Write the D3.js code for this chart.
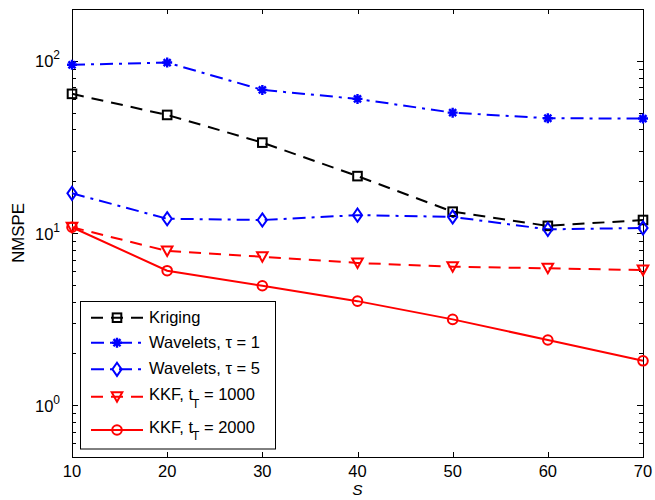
<!DOCTYPE html>
<html>
<head>
<meta charset="utf-8">
<script src="https://cdn.jsdelivr.net/npm/d3@7"></script>
<style>
  body { margin: 0; background: #fff; }
  svg { display: block; }
  text { font-family: "Liberation Sans", Arial, Helvetica, sans-serif; fill: #000; }
</style>
</head>
<body>
<svg id="chart" width="655" height="500"></svg>
<script>
// Sample counts S on the x axis
const sValues = [10, 20, 30, 40, 50, 60, 70];

// NMSPE per method
const kriging   = [64.3, 48.5, 33.5, 21.4, 13.3, 11.0, 11.9];
const wavelets1 = [94.8, 97.7, 67.8, 60.1, 50.0, 46.4, 46.2];
const wavelets5 = [17.0, 12.1, 11.9, 12.7, 12.4, 10.5, 10.7];
const kkf1000   = [10.8, 7.86, 7.28, 6.7, 6.37, 6.24, 6.09];
const kkf2000   = [10.8, 6.04, 4.94, 4.02, 3.15, 2.39, 1.81];

const xTicks = [10, 20, 30, 40, 50, 60, 70];
const yMajorTicks = [1, 10, 100];

const series = [
  { name: "Kriging",   values: kriging,   color: "#000000", dash: "12,8",      marker: "square" },
  { name: "Wavelets1", values: wavelets1, color: "#0000ff", dash: "13,6,3,6",  marker: "star" },
  { name: "Wavelets5", values: wavelets5, color: "#0000ff", dash: "13,6,3,6",  marker: "diamond" },
  { name: "KKF1000",   values: kkf1000,   color: "#ff0000", dash: "12,8",      marker: "triangle" },
  { name: "KKF2000",   values: kkf2000,   color: "#ff0000", dash: null,        marker: "circle" }
];

const svg = d3.select("#chart");
const plotL = 72, plotR = 643, plotT = 9, plotB = 457;

const x = d3.scaleLinear().domain([10, 70]).range([plotL, plotR]);
const y = d3.scaleLog().domain([0.5, 200]).range([plotB, plotT]);

// minor log ticks
const yMinor = [];
for (const base of [0.1, 1, 10, 100]) {
  for (let k = 2; k <= 9; k++) {
    const v = base * k;
    if (v >= 0.5 && v <= 200) yMinor.push(v);
  }
}

const axes = svg.append("g");

// inward ticks on all four sides
const tick = (x1, y1, x2, y2) => axes.append("line")
  .attr("x1", x1).attr("y1", y1).attr("x2", x2).attr("y2", y2)
  .attr("stroke", "#000").attr("stroke-width", 1);

xTicks.forEach(t => {
  const px = Math.round(x(t)) + 0.5;
  tick(px, plotB, px, plotB - 5);
  tick(px, plotT, px, plotT + 5);
});
yMajorTicks.forEach(t => {
  const py = Math.round(y(t)) + 0.5;
  tick(plotL, py, plotL + 6, py);
  tick(plotR, py, plotR - 6, py);
});
yMinor.forEach(t => {
  const py = Math.round(y(t)) + 0.5;
  tick(plotL, py, plotL + 4, py);
  tick(plotR, py, plotR - 4, py);
});

// axes box
axes.append("rect")
  .attr("x", plotL + 0.5).attr("y", plotT + 0.5)
  .attr("width", plotR - plotL).attr("height", plotB - plotT)
  .attr("fill", "none").attr("stroke", "#000").attr("stroke-width", 1);

// x tick labels
axes.selectAll(".xl").data(xTicks).enter().append("text")
  .attr("x", d => x(d)).attr("y", plotB + 20)
  .attr("text-anchor", "middle").attr("font-size", 16.5)
  .text(d => d);

// y tick labels 10^n
yMajorTicks.forEach(t => {
  const g = axes.append("text")
    .attr("x", plotL - 12).attr("y", y(t) + 6.5)
    .attr("text-anchor", "end").attr("font-size", 16.5);
  g.append("tspan").text("10");
  g.append("tspan").attr("dy", -8).attr("font-size", 12).text(Math.round(Math.log10(t)));
});

// axis titles
svg.append("text")
  .attr("x", x(40)).attr("y", 495)
  .attr("text-anchor", "middle")
  .attr("font-family", "'Liberation Serif', 'DejaVu Serif', serif")
  .attr("font-style", "italic").attr("font-size", 15.5)
  .text("S");

svg.append("text")
  .attr("transform", `translate(24,${(plotT + plotB) / 2}) rotate(-90)`)
  .attr("text-anchor", "middle").attr("font-size", 16.8)
  .text("NMSPE");

// markers
function drawMarker(g, type, cx, cy, color) {
  const sw = 2;
  if (type === "square") {
    g.append("rect").attr("x", cx - 4.3).attr("y", cy - 4.3)
      .attr("width", 8.6).attr("height", 8.6)
      .attr("fill", "none").attr("stroke", color).attr("stroke-width", sw);
  } else if (type === "diamond") {
    g.append("path")
      .attr("d", `M${cx},${cy - 6.6}L${cx + 4.6},${cy}L${cx},${cy + 6.6}L${cx - 4.6},${cy}Z`)
      .attr("fill", "none").attr("stroke", color).attr("stroke-width", sw);
  } else if (type === "triangle") {
    g.append("path")
      .attr("d", `M${cx - 5.3},${cy - 4.5}L${cx + 5.3},${cy - 4.5}L${cx},${cy + 5}Z`)
      .attr("fill", "none").attr("stroke", color).attr("stroke-width", sw);
  } else if (type === "circle") {
    g.append("circle").attr("cx", cx).attr("cy", cy).attr("r", 4.8)
      .attr("fill", "none").attr("stroke", color).attr("stroke-width", sw);
  } else if (type === "star") {
    const r = 5, d = r * Math.SQRT1_2;
    g.append("path")
      .attr("d", `M${cx - r},${cy}L${cx + r},${cy}M${cx},${cy - r}L${cx},${cy + r}` +
                 `M${cx - d},${cy - d}L${cx + d},${cy + d}M${cx - d},${cy + d}L${cx + d},${cy - d}`)
      .attr("fill", "none").attr("stroke", color).attr("stroke-width", 2.4);
    g.append("circle").attr("cx", cx).attr("cy", cy).attr("r", 2.4).attr("fill", color);
  }
}

const line = d3.line().x((d, i) => x(sValues[i])).y(d => y(d));
const plot = svg.append("g");

series.forEach(s => {
  plot.append("path")
    .datum(s.values)
    .attr("d", line)
    .attr("fill", "none")
    .attr("stroke", s.color)
    .attr("stroke-width", 2)
    .attr("stroke-dasharray", s.dash);
});
series.forEach(s => {
  const g = plot.append("g");
  s.values.forEach((v, i) => drawMarker(g, s.marker, x(sValues[i]), y(v), s.color));
});

// legend
const legend = svg.append("g");
legend.append("rect")
  .attr("x", 80.5).attr("y", 301.5).attr("width", 195).attr("height", 147.5)
  .attr("fill", "#fff").attr("stroke", "#000").attr("stroke-width", 1);

function subLabel(value) {
  return g => {
    g.append("tspan").text("KKF, t");
    g.append("tspan").attr("dx", -1).attr("dy", 7.5).attr("font-size", 12).text("T");
    g.append("tspan").attr("dy", -7.5).text(" = " + value);
  };
}

const legendRows = [
  { s: series[0], ly: 317.7, base: 323.3, label: g => g.append("tspan").text("Kriging") },
  { s: series[1], ly: 342.7, base: 348.3, label: g => g.append("tspan").text("Wavelets, \u03c4 = 1") },
  { s: series[2], ly: 369.3, base: 374.3, label: g => g.append("tspan").text("Wavelets, \u03c4 = 5") },
  { s: series[3], ly: 396.7, base: 400.2, label: subLabel("1000") },
  { s: series[4], ly: 430,   base: 432.8, label: subLabel("2000") }
];

legendRows.forEach(r => {
  legend.append("line")
    .attr("x1", 91).attr("x2", 143).attr("y1", r.ly).attr("y2", r.ly)
    .attr("stroke", r.s.color).attr("stroke-width", 2)
    .attr("stroke-dasharray", r.s.dash);
  drawMarker(legend, r.s.marker, 117, r.ly, r.s.color);
  const t = legend.append("text")
    .attr("x", 149).attr("y", r.base)
    .attr("font-size", 16.5);
  r.label(t);
});
</script>
</body>
</html>
